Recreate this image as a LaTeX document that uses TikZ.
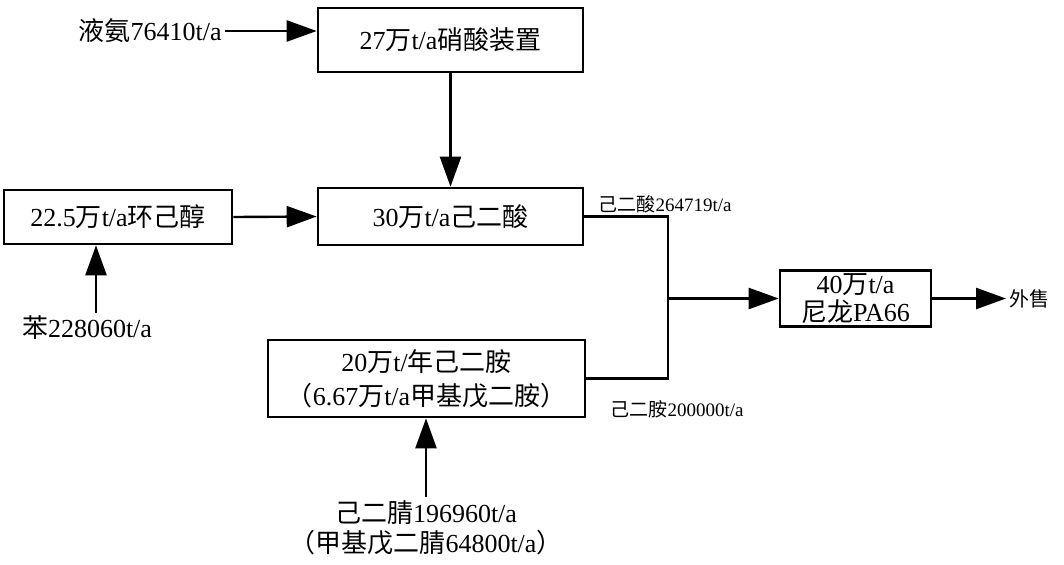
\documentclass[tikz,border=0pt]{standalone}
\usepackage{fontspec}
\setmainfont{Liberation Serif}
\newfontfamily\cjk{Noto Sans CJK SC}
\newcommand{\zh}[1]{{\cjk #1}}
\usetikzlibrary{arrows.meta}

\begin{document}
\begin{tikzpicture}[x=0.5pt,y=-0.5pt,
    box/.style={draw,line width=1.3pt,inner sep=0pt,align=center,font=\fontsize{13}{17}\selectfont},
    txt/.style={inner sep=1.5pt,align=center,font=\fontsize{13}{15}\selectfont},
    lbl/.style={inner sep=0pt,font=\fontsize{9.5}{11}\selectfont},
    flow/.style={line width=1.2pt,-{Triangle[length=15pt,width=10.5pt]}},
    pipe/.style={line width=1.2pt}]
    \useasboundingbox (0,0) rectangle (1064,564);
    \node[box,minimum width=132.5pt,minimum height=32pt] (hno3) at (450.5,40) {27\zh{万}t/a\zh{硝酸装置}};
    \node[box,minimum width=132.5pt,minimum height=28.5pt] (adipic) at (450.5,216.5) {30\zh{万}t/a\zh{己二酸}};
    \node[box,minimum width=114pt,minimum height=27pt] (cyclo) at (118,217) {22.5\zh{万}t/a\zh{环己醇}};
    \node[box,minimum width=158.5pt,minimum height=38.5pt] (hmda) at (426.5,378.5) {20\zh{万}t/\zh{年己二胺}\\\zh{（}6.67\zh{万}t/a\zh{甲基戊二胺）}};
    \node[box,minimum width=75.5pt,minimum height=28pt,font=\fontsize{13}{14}\selectfont] (nylon) at (855.5,298.5) {40\zh{万}t/a\\\zh{尼龙}PA66};
    \node[txt,anchor=east] (nh3) at (225,31) {\zh{液氨}76410t/a};
    \node[txt] (benz) at (87,328) {\zh{苯}228060t/a};
    \node[txt] (adn) at (426,528) {\zh{己二腈}196960t/a\\\zh{（甲基戊二腈}64800t/a\zh{）}};
    \node[txt,anchor=west,font=\fontsize{10}{12}\selectfont] (sale) at (1006,298.5) {\zh{外售}};
    \node[lbl] (acidlbl) at (665,204) {\zh{己二酸}264719t/a};
    \node[lbl] (amlbl) at (677,409) {\zh{己二胺}200000t/a};
    \coordinate (jn) at (668,298.5);
    \draw[flow] (nh3.east) -- (nh3.east -| hno3.west);
    \draw[flow] (hno3.south) -- (adipic.north);
    \draw[flow] (cyclo.east) -- (adipic.west);
    \draw[flow] ([xshift=4.5pt]benz.north) -- ([xshift=4.5pt]benz.north |- cyclo.south);
    \draw[flow] (adn.north) -- (adn.north |- hmda.south);
    \draw[pipe] (adipic.east) -- (adipic.east -| jn) -- (hmda.east -| jn) -- (hmda.east);
    \draw[flow] (jn) -- (nylon.west);
    \draw[flow] (nylon.east) -- (sale.west);
\end{tikzpicture}
\end{document}
